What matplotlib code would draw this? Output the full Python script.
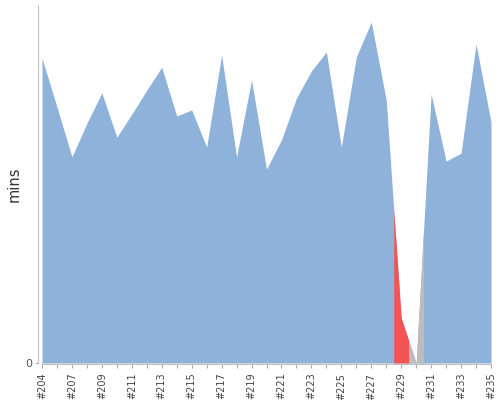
import numpy as np
import matplotlib
matplotlib.use("Agg")
import matplotlib.pyplot as plt

# build numbers, durations (mins) and results
builds = ["#204", "#206"] + ["#%d" % n for n in range(207, 236)]
durations = [0.805, 0.676, 0.544, 0.633, 0.713, 0.596, 0.657, 0.720, 0.781, 0.652,
             0.668, 0.570, 0.813, 0.544, 0.747, 0.512, 0.589, 0.699, 0.771, 0.821,
             0.570, 0.808, 0.900, 0.694, 0.119, 0.0, 0.710, 0.533, 0.554, 0.842,
             0.636]
results = ["SUCCESS"] * 24 + ["FAILURE", "ABORTED"] + ["SUCCESS"] * 5

colors = {"SUCCESS": "#8eb2d9", "FAILURE": "#f25454", "ABORTED": "#bcbcbc"}

fig = plt.figure(figsize=(5, 4), dpi=100)
ax = fig.add_axes([0.084, 0.0925, 0.898, 0.895])

x = np.arange(len(builds))
y = np.array(durations)

# whole trend first, then recolour the half-category pieces of non-successful builds
ax.fill_between(x, 0, y, color=colors["SUCCESS"], linewidth=0)
for i, r in enumerate(results):
    if r == "SUCCESS":
        continue
    xs = np.array([max(i - 0.5, 0), i, min(i + 0.5, len(x) - 1)])
    ax.fill_between(xs, 0, np.interp(xs, x, y), color=colors[r], linewidth=0)

ax.set_xlim(0, len(x) - 1)
ax.set_ylim(0, 0.945)

ax.tick_params(axis="x", length=3, width=0.8, color="#aaaaaa", pad=3,
               labelrotation=90, labelsize=7, labelcolor="#444444")
ax.tick_params(axis="y", length=2, width=0.8, color="#aaaaaa", pad=2,
               labelsize=8, labelcolor="#555555")
ax.set_xticks(x)
ax.set_xticklabels([b if i % 2 == 0 else "" for i, b in enumerate(builds)])
ax.set_yticks([0])
ax.set_yticklabels(["0"])

for s in ["top", "right"]:
    ax.spines[s].set_visible(False)
ax.spines["left"].set_position(("outward", 3))
ax.spines["bottom"].set_position(("outward", 1))
ax.spines["left"].set_color("#c0c0c0")
ax.spines["bottom"].set_color("#c0c0c0")

ax.set_ylabel("mins", fontsize=10.5, color="#333333")
ax.yaxis.set_label_coords(-0.045, 0.5)

fig.savefig("out.png", dpi=100)
